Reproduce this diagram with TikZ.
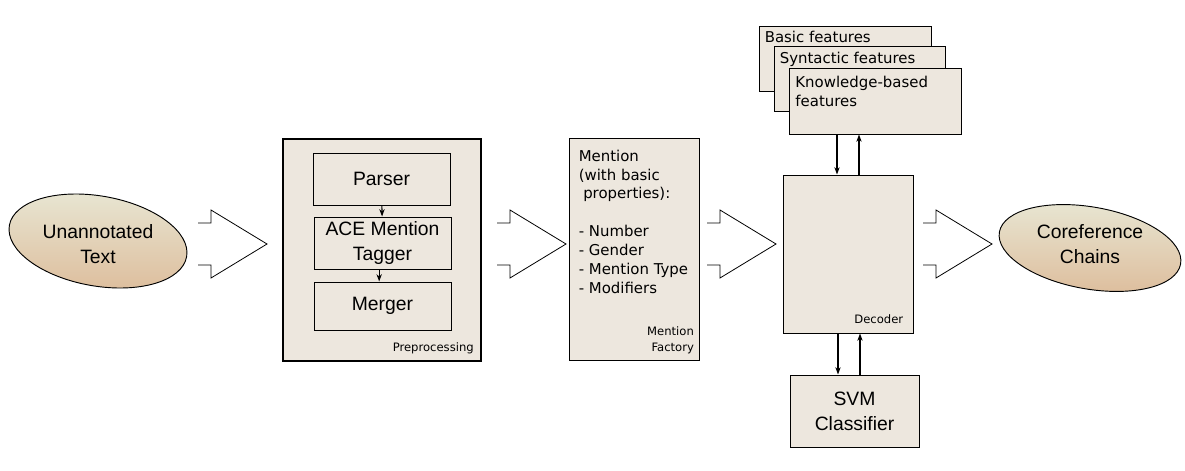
\documentclass[tikz,border=0pt]{standalone}
\usepackage{fontspec}
\setmainfont{Liberation Sans}
\newfontfamily\vera{DejaVu Sans}
\usepackage{tikz}
\usetikzlibrary{positioning,arrows.meta,shapes.geometric}
\definecolor{boxfill}{RGB}{237,231,222}
\definecolor{blobtop}{RGB}{232,231,212}
\definecolor{blobbot}{RGB}{222,192,160}

\begin{document}
\begin{tikzpicture}[x=0.75pt,y=-0.75pt,>={Stealth[length=5.5pt,width=4pt]},
  pics/hollow/.style={code={\draw[line width=0.6pt] (0,-21) -- (13,-21) -- (13,-34) -- (69,0) -- (13,34) -- (13,21) -- (0,21);}}]
  \tikzstyle{blob}=[ellipse,draw,line width=0.7pt,top color=blobtop,bottom color=blobbot,inner sep=0pt,rotate=-10]
  \tikzstyle{box}=[rectangle,draw,fill=boxfill,line width=0.75pt,inner sep=0pt]
  \tikzstyle{big}=[font=\fontsize{14.5}{18.8}\selectfont,align=center]
  \tikzstyle{small}=[font=\vera\fontsize{8.7}{12}\selectfont,align=right,inner sep=0pt]
  \tikzstyle{body}=[font=\vera\fontsize{11.2}{14.2}\selectfont,align=left,inner sep=0pt]
  \tikzstyle{link}=[->,line width=0.8pt]
  \useasboundingbox (0,0) rectangle (1185,471);

  % input and output
  \node[blob,minimum width=135pt,minimum height=67.5pt] (unann) at (98,241) {};
  \node[big] at ([yshift=-2pt]unann.center) {Unannotated\\Text};
  \node[blob,minimum width=138pt,minimum height=61.5pt] (coref) at (1090,248) {};
  \node[big] at ([yshift=3pt]coref.center) {Coreference\\Chains};

  % preprocessing
  \node[box,line width=1.5pt,minimum width=148.5pt,minimum height=166.5pt] (pre) at (382,250) {};
  \node[box,big,minimum width=102.75pt,minimum height=39pt] (parser) at (381.5,179) {Parser};
  \node[box,big,minimum width=102.75pt,minimum height=39pt] (tagger) at (382.5,243) {ACE Mention\\Tagger};
  \node[box,big,minimum width=102.75pt,minimum height=36pt] (merger) at (382.5,306) {Merger};
  \draw[link] (parser) -- (tagger);
  \draw[link] ([xshift=-2.5pt]tagger.south) -- ([xshift=-2.5pt]merger.north);
  \node[small,anchor=south east] at ([xshift=-6pt,yshift=6pt]pre.south east) {Preprocessing};

  % mention factory
  \node[box,minimum width=97.5pt,minimum height=166.5pt] (factory) at (634,249) {};
  \node[body,anchor=north west] at ([xshift=7.5pt,yshift=-9pt]factory.north west)
    {Mention\\(with basic\\\hspace*{0.3em}properties):\\[14.2pt]- Number\\- Gender\\- Mention Type\\- Modifiers};
  \node[small,anchor=south east] at ([xshift=-4pt,yshift=5pt]factory.south east) {Mention\\Factory};

  % features
  \node[box,minimum width=129pt,minimum height=48.75pt] (basic) at (845,58.5) {};
  \node[body,anchor=north west] at ([xshift=4.5pt,yshift=-4pt]basic.north west) {Basic features};
  \node[box,minimum width=128.25pt,minimum height=48.75pt] (synt) at (859.5,78.5) {};
  \node[body,anchor=north west] at ([xshift=4.5pt,yshift=-4.5pt]synt.north west) {Syntactic features};
  \node[box,minimum width=129pt,minimum height=49.5pt] (know) at (875,101) {};
  \node[body,anchor=north west] at ([xshift=5pt,yshift=-6pt]know.north west) {Knowledge-based\\features};

  % decoder and classifier
  \node[box,minimum width=97.5pt,minimum height=118.5pt] (decoder) at (848,254) {};
  \node[small,anchor=south east] at ([xshift=-7.5pt,yshift=7pt]decoder.south east) {Decoder};
  \node[box,big,minimum width=96.75pt,minimum height=54pt] (svm) at (854.5,411) {SVM\\Classifier};

  \draw[link] ([xshift=-8.25pt]decoder.north |- know.south) -- ([xshift=-8.25pt]decoder.north);
  \draw[link] ([xshift=8.25pt]decoder.north) -- ([xshift=8.25pt]decoder.north |- know.south);
  \draw[link] ([xshift=-7.5pt]decoder.south) -- ([xshift=-7.5pt]decoder.south |- svm.north);
  \draw[link] ([xshift=9pt]decoder.south |- svm.north) -- ([xshift=9pt]decoder.south);

  % hollow arrows
  \pic at (198,244) {hollow};
  \pic at (497,244) {hollow};
  \pic at (707,244) {hollow};
  \pic at (923,244) {hollow};
\end{tikzpicture}
\end{document}
